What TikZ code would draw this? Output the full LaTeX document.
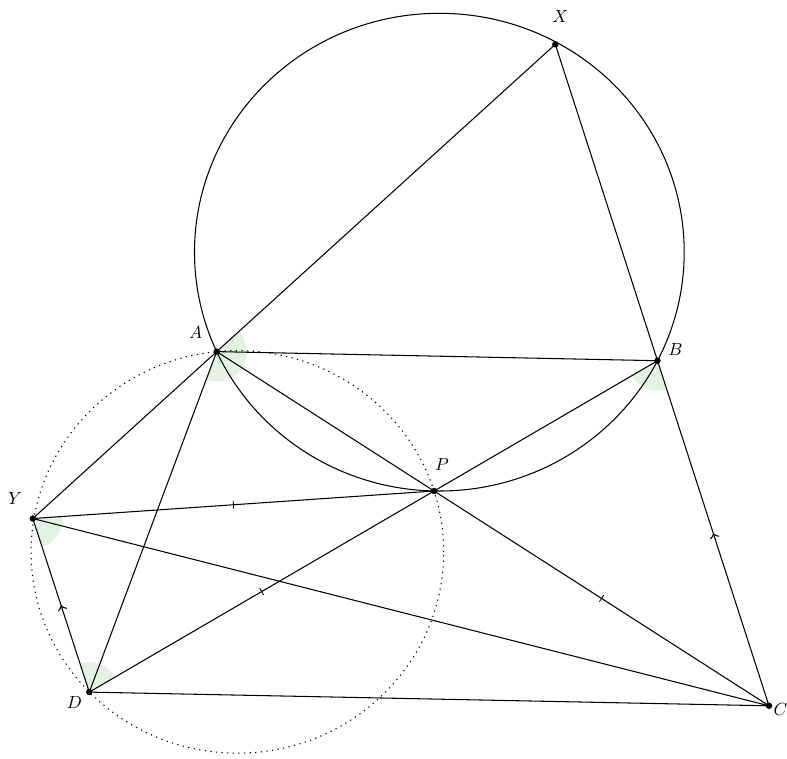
\documentclass[tikz,border=0pt]{standalone}
\usetikzlibrary{angles,decorations.markings}
\definecolor{anglegreen}{RGB}{228,242,228}
\tikzset{
  fig/.style={line width=0.6pt},
  dotcirc/.style={line width=0.6pt, dash pattern=on 0.7pt off 2.5pt},
  tickmid/.style={postaction={decorate,decoration={markings,mark=at position 0.5 with {\draw[line width=0.5pt] (0,-2.2pt) -- (0,2.2pt);}}}},
  parmark/.style={postaction={decorate,decoration={markings,mark=at position 0.5 with {\arrow[line width=0.6pt,scale=1.3]{>}}}}},
  ang/.style={fill=anglegreen, draw=none, angle radius=0.6cm},
}
\begin{document}
\begin{tikzpicture}[x=0.02cm, y=-0.02cm]
            \useasboundingbox (0,0) rectangle (787,758);
            \coordinate (A) at (216.7,351.6);
            \coordinate (B) at (657.5,360.7);
            \coordinate (C) at (769,705.8);
            \coordinate (D) at (89.3,692.1);
            \coordinate (Y) at (32.8,518.5);
            \coordinate (P) at (intersection of A--C and B--D);
            \coordinate (X) at (intersection of Y--A and C--B);
            \coordinate (O1) at (439.35,252.15);
            \coordinate (O2) at (237.4,551.9);
            \pic[ang] {angle = D--A--X};
            \pic[ang] {angle = D--B--C};
            \pic[ang] {angle = D--Y--P};
            \pic[ang] {angle = P--D--Y};
            \draw[fig] (O1) ellipse [x radius=4.898cm, y radius=4.778cm];
            \draw[dotcirc] (O2) ellipse [x radius=4.127cm, y radius=4.026cm];
            \draw[fig] (Y) -- (A) -- (X) -- (B);
            \draw[fig,parmark] (C) -- (B);
            \draw[fig] (A) -- (B);
            \draw[fig] (A) -- (P);
            \draw[fig,tickmid] (P) -- (C);
            \draw[fig] (B) -- (P);
            \draw[fig,tickmid] (P) -- (D);
            \draw[fig,tickmid] (Y) -- (P);
            \draw[fig] (A) -- (D);
            \draw[fig] (Y) -- (C);
            \draw[fig,parmark] (D) -- (Y);
            \draw[fig] (D) -- (C);
            \filldraw[black] (X) circle (1.6pt) node[xshift=2.8pt, yshift=16pt] (lX) {$X$};
            \filldraw[black] (A) circle (1.6pt) node[xshift=-11.9pt, yshift=10.8pt] (lA) {$A$};
            \filldraw[black] (B) circle (1.6pt) node[xshift=10.2pt, yshift=6.2pt] (lB) {$B$};
            \filldraw[black] (P) circle (1.6pt) node[xshift=4.5pt, yshift=15.3pt] (lP) {$P$};
            \filldraw[black] (Y) circle (1.6pt) node[xshift=-10pt, yshift=11.2pt] (lY) {$Y$};
            \filldraw[black] (D) circle (1.6pt) node[xshift=-8.5pt, yshift=-5.7pt] (lD) {$D$};
            \filldraw[black] (C) circle (1.6pt) node[xshift=6.5pt, yshift=-2.3pt] (lC) {$C$};
        \end{tikzpicture}
\end{document}
